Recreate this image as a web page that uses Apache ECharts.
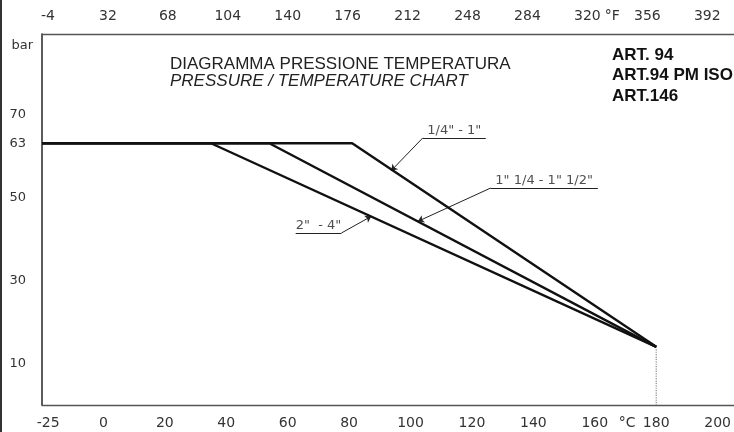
<!DOCTYPE html>
<html>
<head>
<meta charset="utf-8">
<script src="https://cdn.jsdelivr.net/npm/echarts@6/dist/echarts.min.js"></script>
<style>
html,body{margin:0;padding:0;background:#fff;overflow:hidden;}
#chart{width:734px;height:432px;}
</style>
</head>
<body>
<div id="chart"></div>
<script>
// ---- data ----
const celsiusTicks = [-25, 0, 20, 40, 60, 80, 100, 120, 140, 160, 180, 200];
const fahrenheitTicks = [-4, 32, 68, 104, 140, 176, 212, 248, 284, 320, 356, 392];
const pressureTicks = [10, 30, 50, 63, 70];
const sizeLabels = ['1/4" - 1"', '1" 1/4 - 1" 1/2"', '2"  - 4"'];
const kneeTemps = [81, 54, 35];      // °C where derating starts for each size group
const maxPressure = 63;              // bar
const endTemp = 180;                 // °C
const endPressure = 14;              // bar

// ---- layout constants (not data) ----
const xMinC = -20, xMaxC = 205.3;
const xMinF = -7.6, xMaxF = 408;
const firstCelsiusTickAt = -18;      // where the "-25" label sits on the drawing
const unitCAt = 170.5, unitFAt = 335;

const cPos = celsiusTicks.map((v, i) => i === 0 ? firstCelsiusTickAt : v);
const cLabelMap = new Map(cPos.map((p, i) => [p, String(celsiusTicks[i])]));
cLabelMap.set(unitCAt, '°C');
const fLabelMap = new Map(fahrenheitTicks.map(v => [v, String(v)]));
fLabelMap.set(unitFAt, '°F');

// annotation leaders (data coordinates)
const annotations = [
  { text: sizeLabels[0], ul: [104, 124.5], y: 64.3, target: [93.7, 56.4], anchorEnd: 0 },
  { text: sizeLabels[1], ul: [126, 161], y: 52.2, target: [102.4, 44.2], anchorEnd: 0 },
  { text: sizeLabels[2], ul: [62.6, 77.5], y: 41.4, target: [87.2, 45.4], anchorEnd: 1 }
];

const labelFont = 'DejaVu Sans';
const lineSeries = kneeTemps.map((k, i) => ({
  type: 'line',
  name: sizeLabels[i],
  xAxisIndex: 0, yAxisIndex: 0,
  data: [[xMinC, maxPressure], [k, maxPressure], [endTemp, endPressure]],
  symbol: 'none',
  lineStyle: { color: '#111', width: 2.4 },
  z: 5,
  silent: true
}));

const leaderData = [];
annotations.forEach(a => {
  leaderData.push({ coords: [[a.ul[0], a.y], [a.ul[1], a.y]], symbol: ['none', 'none'] });
  leaderData.push({ coords: [[a.ul[a.anchorEnd], a.y], a.target] });
});

const option = {
  animation: false,
  backgroundColor: '#fff',
  title: [
    {
      text: 'DIAGRAMMA PRESSIONE TEMPERATURA',
      subtext: 'PRESSURE / TEMPERATURE CHART',
      left: 170, top: 57, padding: 0, itemGap: 0,
      textStyle: { fontFamily: 'Liberation Sans', fontSize: 17, fontWeight: 'normal', color: '#222', lineHeight: 15 },
      subtextStyle: { fontFamily: 'Liberation Sans', fontSize: 17, fontStyle: 'italic', color: '#222', lineHeight: 15 }
    },
    {
      text: 'ART. 94\nART.94 PM ISO\nART.146',
      left: 612, top: 45, padding: 0,
      textStyle: { fontFamily: 'Liberation Sans', fontSize: 17, fontWeight: 'bold', color: '#111', lineHeight: 20.5 }
    }
  ],
  grid: { left: 42, right: -3, top: 34, bottom: 27, containLabel: false },
  xAxis: [
    {
      type: 'value', position: 'bottom', min: xMinC, max: xMaxC,
      axisLine: { show: true, onZero: false, lineStyle: { color: '#555', width: 1.4 } },
      axisTick: { show: false },
      splitLine: { show: false },
      axisLabel: {
        customValues: [...cPos, unitCAt],
        formatter: v => cLabelMap.get(v) ?? '',
        fontFamily: labelFont, fontSize: 14, color: '#333', margin: 11
      }
    },
    {
      type: 'value', position: 'top', min: xMinF, max: xMaxF,
      axisLine: { show: true, onZero: false, lineStyle: { color: '#555', width: 1.4 } },
      axisTick: { show: false },
      splitLine: { show: false },
      axisLabel: {
        customValues: [...fahrenheitTicks, unitFAt],
        formatter: v => fLabelMap.get(v) ?? '',
        fontFamily: labelFont, fontSize: 14, color: '#333', margin: 11
      }
    }
  ],
  yAxis: {
    type: 'value', min: 0, max: 89.3,
    name: 'bar', nameLocation: 'end', nameGap: -12,
    nameTextStyle: { fontFamily: labelFont, fontSize: 13, color: '#333', align: 'right', verticalAlign: 'middle', padding: [0, 9, 0, 0] },
    axisLine: { show: true, onZero: false, lineStyle: { color: '#333', width: 1.6 } },
    axisTick: { show: false },
    splitLine: { show: false },
    axisLabel: {
      customValues: pressureTicks,
      fontFamily: labelFont, fontSize: 13, color: '#333', margin: 16
    }
  },
  graphic: [
    { type: 'rect', left: 0, top: 0, shape: { width: 2, height: 432 }, style: { fill: '#333' }, silent: true }
  ],
  series: [
    ...lineSeries,
    {
      type: 'line',
      xAxisIndex: 0, yAxisIndex: 0,
      data: [[endTemp, endPressure], [endTemp, 0]],
      symbol: 'none',
      lineStyle: { color: '#888', width: 1.2, type: 'dotted' },
      z: 3, silent: true
    },
    {
      type: 'lines',
      coordinateSystem: 'cartesian2d',
      xAxisIndex: 0, yAxisIndex: 0,
      symbol: ['none', 'arrow'],
      symbolSize: [0, 6],
      lineStyle: { color: '#222', width: 1, opacity: 1, curveness: 0 },
      data: leaderData,
      z: 4, silent: true
    },
    {
      type: 'scatter',
      xAxisIndex: 0, yAxisIndex: 0,
      symbolSize: 0,
      data: annotations.map(a => ({ name: a.text, value: [(a.ul[0] + a.ul[1]) / 2, a.y] })),
      label: {
        show: true, position: 'top', distance: 1,
        formatter: p => p.name,
        fontFamily: labelFont, fontSize: 13, color: '#222'
      },
      z: 6, silent: true
    }
  ]
};

const chart = echarts.init(document.getElementById('chart'), null, { renderer: 'canvas' });
chart.setOption(option);
</script>
</body>
</html>
